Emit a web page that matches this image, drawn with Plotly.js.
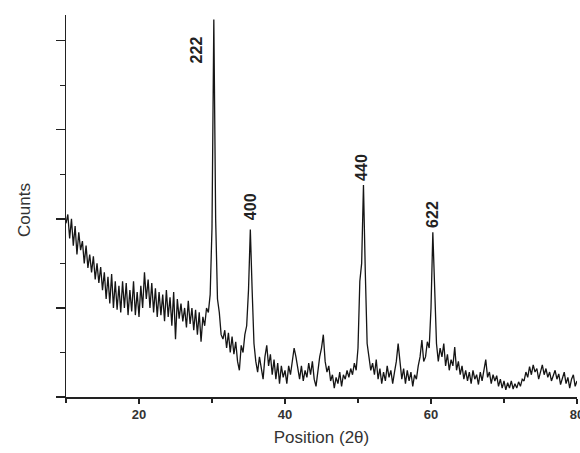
<!DOCTYPE html>
<html>
<head>
<meta charset="utf-8">
<script src="https://cdn.plot.ly/plotly-3.0.1.min.js"></script>
<style>html,body{margin:0;padding:0;background:#fff;}#chart{width:580px;height:453px;}</style>
</head>
<body>
<div id="chart"></div>
<script>
// Diffraction pattern sampled every 0.25 degree (2θ) starting at 10
var startAngle = 10;
var stepAngle = 0.25;
var counts = [
  195, 205, 178, 200,
  170, 192, 160, 185,
  165, 175, 150, 170,
  145, 160, 140, 158,
  132, 150, 128, 146,
  120, 140, 110, 135,
  105, 138, 100, 130,
  98, 125, 95, 130,
  100, 128, 92, 120,
  96, 130, 92, 118,
  90, 125, 100, 140,
  110, 132, 100, 128,
  95, 122, 90, 118,
  92, 115, 85, 120,
  90, 112, 80, 118,
  65, 110, 88, 105,
  85, 100, 78, 108,
  82, 100, 75, 98,
  70, 95, 62, 90,
  80, 100, 95, 115,
  190, 424, 200, 110,
  95, 70, 65, 75,
  55, 72, 50, 68,
  48, 62, 40, 30,
  58, 50, 70, 80,
  120, 188, 120, 60,
  40, 28, 45, 30,
  20, 45, 58, 35,
  48, 25, 42, 20,
  38, 15, 35, 22,
  30, 15, 35, 25,
  40, 55, 45, 30,
  20, 35, 18, 30,
  22, 38, 25, 40,
  20, 12, 30, 45,
  55, 70, 40, 28,
  35, 18, 25, 10,
  22, 15, 28, 12,
  25, 20, 30, 22,
  32, 25, 38, 30,
  55, 130, 150, 238,
  140, 60, 45, 30,
  38, 25, 42, 20,
  32, 15, 28, 18,
  35, 22, 30, 15,
  28, 40, 60, 35,
  20, 32, 15, 30,
  18, 28, 12, 25,
  20, 35, 45, 64,
  40, 45, 62, 55,
  100, 185, 130, 60,
  40, 55, 45, 60,
  35, 48, 30, 42,
  35, 56, 30, 40,
  25, 35, 20, 30,
  18, 28, 15, 30,
  20, 25, 14, 28,
  18, 30, 42, 22,
  28, 15, 25, 18,
  24, 12, 20, 10,
  18, 8, 16, 10,
  18, 9, 15, 10,
  17, 12, 20, 18,
  28, 22, 34, 25,
  36, 28, 32, 20,
  30, 36, 25, 32,
  22, 28, 18, 25,
  30, 20, 26, 14,
  22, 28, 15, 22,
  10, 20, 25, 12,
  18
];

// Peak (hkl) labels and where their text sits
var peakLabels = ["222", "400", "440", "622"];
var peakLabelX = [27.9, 35.3, 50.5, 60.2];
var peakLabelY = [390, 214, 258, 205];

var xTickVals = [20, 40, 60, 80];
var xTickText = ["20", "40", "60", "80"];

var FONT = 'Liberation Sans, Arial, sans-serif';

var trace = {
  type: 'scatter',
  mode: 'lines',
  x0: startAngle,
  dx: stepAngle,
  y: counts,
  line: {color: '#151515', width: 1.3},
  hoverinfo: 'skip'
};

var annotations = peakLabels.map(function(t, i) {
  return {
    x: peakLabelX[i], y: peakLabelY[i], xref: 'x', yref: 'y',
    text: '<b>' + t + '</b>', showarrow: false, textangle: -90,
    font: {family: FONT, size: 16, color: '#222'}
  };
});
annotations.push({
  xref: 'paper', yref: 'paper', x: -0.080, y: 0.49, xanchor: 'center', yanchor: 'middle',
  text: 'Counts', showarrow: false, textangle: -90,
  font: {family: FONT, size: 17, color: '#333'}
});

var layout = {
  width: 580, height: 453,
  margin: {l: 66, r: 3, t: 15, b: 56},
  paper_bgcolor: '#fff', plot_bgcolor: '#fff',
  showlegend: false,
  xaxis: {
    range: [10, 80], showgrid: false, zeroline: false,
    showline: true, linecolor: '#222', linewidth: 1.5,
    ticks: 'outside', ticklen: 5, tickwidth: 1.2, tickcolor: '#222',
    tickvals: xTickVals, ticktext: xTickText, ticklabeloverflow: 'allow',
    tickfont: {family: FONT, size: 13, color: '#333', weight: 'bold'},
    minor: {dtick: 10, tick0: 0, ticks: 'outside', ticklen: 4, tickcolor: '#222', showgrid: false},
    title: {text: 'Position (2θ)', standoff: 10,
            font: {family: FONT, size: 17, color: '#333'}}
  },
  yaxis: {
    range: [0, 429], showgrid: false, zeroline: false,
    showline: true, linecolor: '#222', linewidth: 1.5,
    ticks: 'outside', ticklen: 9, tickwidth: 1.2, tickcolor: '#222',
    dtick: 100, tick0: 0, showticklabels: false,
    minor: {dtick: 50, tick0: 0, ticks: 'outside', ticklen: 5, tickcolor: '#222', showgrid: false}
  },
  annotations: annotations
};

Plotly.newPlot('chart', [trace], layout, {displayModeBar: false, staticPlot: true});
</script>
</body>
</html>
